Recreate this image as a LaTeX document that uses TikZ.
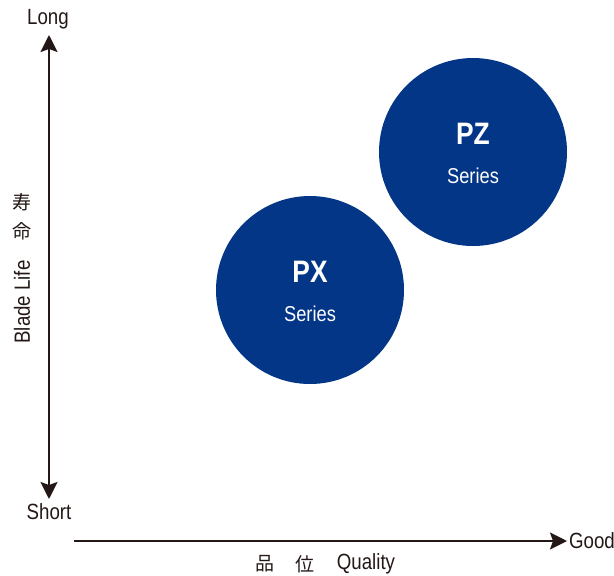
\documentclass[tikz,border=0pt]{standalone}
\usepackage{fontspec}
\setmainfont{Liberation Sans}[FakeStretch=0.85]
\newfontfamily\jafont{Noto Sans CJK JP}
\usetikzlibrary{arrows.meta}
\definecolor{axisblack}{HTML}{231815}
\definecolor{seriesblue}{RGB}{3,54,134}
\newcommand{\fs}[1]{\fontsize{#1}{#1}\selectfont}
\begin{document}
\begin{tikzpicture}[x=1pt, y=-1pt, line join=round,
	axis/.style={draw=axisblack, line width=2.2pt},
	tip/.style={-{Stealth[length=17pt, width=17pt, inset=3pt]}},
	twotip/.style={{Stealth[length=17pt, width=17pt, inset=3pt]}-{Stealth[length=17pt, width=17pt, inset=3pt]}},
	lbl/.style={text=axisblack, font=\fs{22}, inner sep=0pt},
	jalbl/.style={text=axisblack, font=\jafont\fs{19}, inner sep=0pt},
	bubble/.style={circle, fill=seriesblue, minimum size=188pt, inner sep=0pt},
	bubblename/.style={text=white, font=\bfseries\fs{31}, inner sep=0pt},
	bubblesub/.style={text=white, font=\fs{21.5}, inner sep=0pt}]
	\useasboundingbox (0,0) rectangle (614,576);
	%%%%%%%%%%%%%%%%%%%%%%%%%%%%%%%%%
	\coordinate (yS) at (49,499);
	\coordinate (yL) at (49,35);
	\coordinate (xO) at (74,541);
	\coordinate (xG) at (567,541);
	%%%%%%%%%%%%%%%%%%%%%%%%%%%%%%%%%
	\draw[axis, twotip] (yS) -- (yL);
	\draw[axis, tip] (xO) -- (xG);
	%%%%%%%%%%%%%%%%%%%%%%%%%%%%%%%%%
	\node[lbl] (long) at (48,19) {Long};
	\node[lbl] (short) at (49,512) {Short};
	\node[lbl] (good) at (592,541) {Good};
	\node[jalbl] (ju) at (22,202) {寿};
	\node[jalbl] (mei) at (22,231) {命};
	\node[lbl, rotate=90] (life) at (22,302) {Blade Life};
	\node[jalbl] (hin) at (265,564) {品};
	\node[jalbl] (i) at (305,564) {位};
	\node[lbl] (quality) at (366,564) {Quality};
	%%%%%%%%%%%%%%%%%%%%%%%%%%%%%%%%%
	\node[bubble] (px) at (310,290) {};
	\node[bubblename] (pxname) at (310,272) {PX};
	\node[bubblesub] (pxsub) at (310,314) {Series};
	\node[bubble] (pz) at (473,152) {};
	\node[bubblename] (pzname) at (473,134) {PZ};
	\node[bubblesub] (pzsub) at (473,176) {Series};
	%%%%%%%%%%%%%%%%%%%%%%%%%%%%%%%%%
\end{tikzpicture}
\end{document}
